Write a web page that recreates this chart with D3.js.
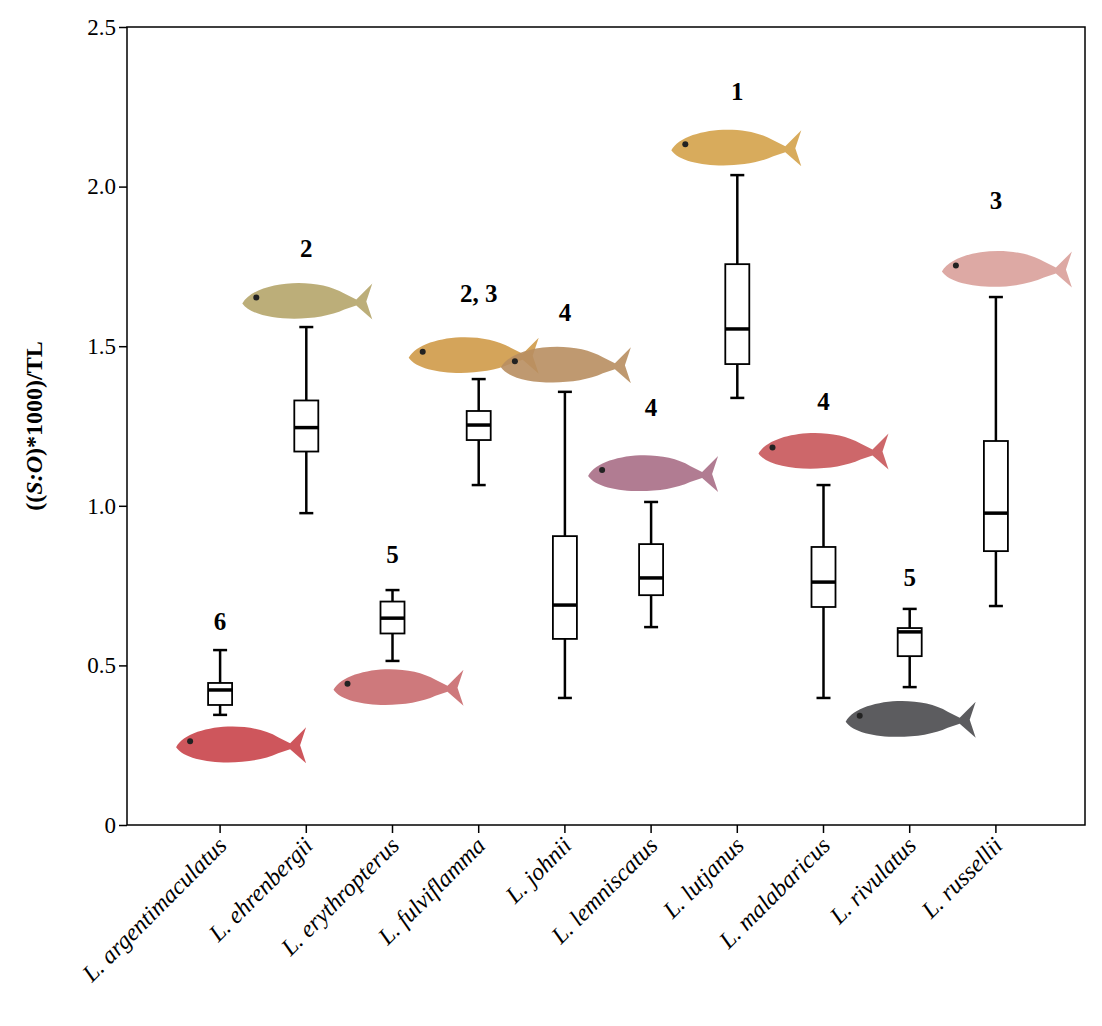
<!DOCTYPE html>
<html><head><meta charset="utf-8">
<script src="https://cdn.jsdelivr.net/npm/d3@7"></script>
<style>body{margin:0;background:#fff}text{font-family:"Liberation Serif","Times New Roman",serif}</style>
</head><body><svg id="c" width="1102" height="1026"></svg>
<script>
const species = ["L. argentimaculatus","L. ehrenbergii","L. erythropterus","L. fulviflamma","L. johnii","L. lemniscatus","L. lutjanus","L. malabaricus","L. rivulatus","L. russellii"];
const whiskerLow = [0.345,0.977,0.514,1.065,0.398,0.62,1.338,0.398,0.432,0.686];
const q1 =        [0.376,1.17,0.60,1.206,0.583,0.72,1.444,0.683,0.529,0.858];
const median =    [0.423,1.245,0.648,1.253,0.689,0.774,1.554,0.761,0.605,0.977];
const q3 =        [0.445,1.33,0.70,1.297,0.905,0.88,1.757,0.871,0.617,1.203];
const whiskerHigh=[0.548,1.56,0.736,1.397,1.357,1.012,2.036,1.065,0.677,1.654];
const groups = ["6","2","5","2, 3","4","4","1","4","5","3"];
const groupY = [0.61,1.78,0.82,1.64,1.58,1.28,2.27,1.30,0.75,1.93];
const fishY = [0.25,1.64,0.43,1.47,1.44,1.10,2.12,1.17,0.33,1.74];
const fishDx = [18,-2,3,-8,-2,-1,-4,-3,-2,8];
const fishColor = ["#c9444a","#b5a56a","#c96a6e","#cf9a48","#b88e60","#a86e86","#d4a24a","#c8565a","#4a4a4e","#d9a09a"];
const yTicks = [0,0.5,1.0,1.5,2.0,2.5];

const svg = d3.select("#c");
const m = {left:127,right:1085,top:27,bottom:825};
const x = d3.scaleBand().domain(species).range([m.left+50,m.right-46]).padding(0);
const y = d3.scaleLinear().domain([0,2.5]).range([m.bottom,m.top]);
const cx = i => x(species[i]) + x.bandwidth()/2;

svg.append("rect").attr("x",m.left).attr("y",m.top).attr("width",m.right-m.left).attr("height",m.bottom-m.top)
  .attr("fill","none").attr("stroke","#000").attr("stroke-width",1.5);

svg.append("g").attr("transform",`translate(${m.left},0)`)
  .call(d3.axisLeft(y).tickValues(yTicks).tickFormat(d=>d===0?"0":d3.format(".1f")(d)).tickSize(8))
  .call(g=>g.select(".domain").remove())
  .call(g=>g.selectAll("line").attr("stroke-width",1.5))
  .call(g=>g.selectAll("text").attr("font-size",23).attr("font-family","Liberation Serif"));

svg.append("g").attr("transform",`translate(0,${m.bottom})`)
  .call(d3.axisBottom(x).tickSize(8).tickFormat(""))
  .call(g=>g.select(".domain").remove())
  .call(g=>g.selectAll("line").attr("stroke-width",1.5));

species.forEach((s,i)=>{
  svg.append("text").attr("transform",`translate(${cx(i)+8},${m.bottom+22}) rotate(-45)`)
    .attr("text-anchor","end").attr("font-size",24).attr("font-style","italic").text(s);
});

const yl = svg.append("text").attr("transform",`translate(42,${(m.top+m.bottom)/2}) rotate(-90)`)
  .attr("text-anchor","middle").attr("font-size",24).attr("font-weight","bold");
yl.append("tspan").text("((");
yl.append("tspan").attr("font-style","italic").text("S:O");
yl.append("tspan").text(")*1000)/TL");

// fish silhouettes (stand-ins for photos)
species.forEach((s,i)=>{
  const fx = cx(i)+fishDx[i], fy = y(fishY[i]);
  const g = svg.append("g").attr("transform",`translate(${fx},${fy})`);
  g.append("path").attr("d","M-62,2 C-50,-20 10,-26 40,-8 L52,-2 L68,-18 L62,0 L68,18 L52,4 L40,8 C10,22 -50,20 -62,2 Z")
    .attr("fill",fishColor[i]).attr("opacity",0.9);
  g.append("circle").attr("cx",-48).attr("cy",-4).attr("r",3).attr("fill","#222");
});

const bw = 24, cap = 14;
species.forEach((s,i)=>{
  const c = cx(i);
  const g = svg.append("g").attr("stroke","#000");
  g.append("line").attr("x1",c).attr("x2",c).attr("y1",y(whiskerLow[i])).attr("y2",y(q1[i])).attr("stroke-width",2.5);
  g.append("line").attr("x1",c).attr("x2",c).attr("y1",y(q3[i])).attr("y2",y(whiskerHigh[i])).attr("stroke-width",2.5);
  [whiskerLow[i],whiskerHigh[i]].forEach(v=>g.append("line").attr("x1",c-cap/2).attr("x2",c+cap/2).attr("y1",y(v)).attr("y2",y(v)).attr("stroke-width",2.5));
  g.append("rect").attr("x",c-bw/2).attr("width",bw).attr("y",y(q3[i])).attr("height",y(q1[i])-y(q3[i]))
    .attr("fill","#fff").attr("stroke-width",1.8);
  g.append("line").attr("x1",c-bw/2).attr("x2",c+bw/2).attr("y1",y(median[i])).attr("y2",y(median[i])).attr("stroke-width",3.5);
  svg.append("text").attr("x",c).attr("y",y(groupY[i])).attr("text-anchor","middle")
    .attr("font-size",25).attr("font-weight","bold").text(groups[i]);
});
</script></body></html>
